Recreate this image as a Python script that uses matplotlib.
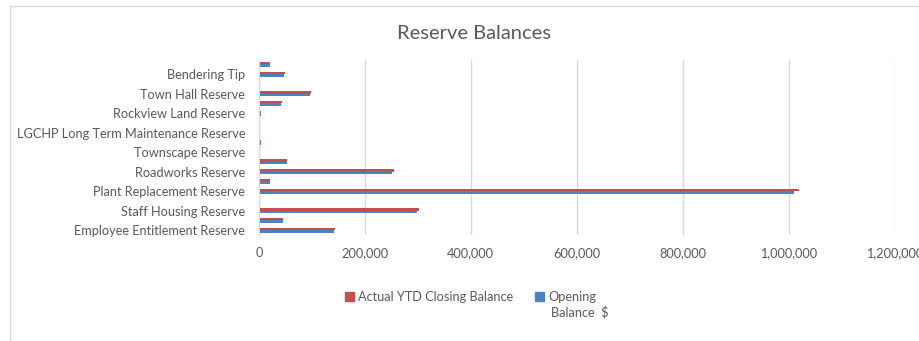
import numpy as np
import matplotlib
matplotlib.use("Agg")
import matplotlib.pyplot as plt
from matplotlib.patches import Patch

plt.rcParams['font.family'] = ['Lato', 'DejaVu Sans']

# reserves, bottom to top; Excel skips every other label
reserves = ["Employee Entitlement Reserve", "", "Staff Housing Reserve", "",
            "Plant Replacement Reserve", "", "Roadworks Reserve", "",
            "Townscape Reserve", "", "LGCHP Long Term Maintenance Reserve", "",
            "Rockview Land Reserve", "", "Town Hall Reserve", "",
            "Bendering Tip", ""]
closing = [143000, 46000, 302000, 0, 1020000, 21000, 255000, 53000,
           1000, 4000, 2000, 0, 4000, 43000, 99000, 0, 49000, 21000]
opening = [141000, 45000, 298000, 0, 1010000, 21000, 251000, 53000,
           1000, 4000, 2000, 0, 4000, 42000, 97000, 0, 48000, 20000]
x_ticks = [0, 200000, 400000, 600000, 800000, 1000000, 1200000]

red = "#C0504D"
blue = "#4F81BD"
grey_txt = "#595959"
grid_col = "#D9D9D9"
fs = 9.2

fig = plt.figure(figsize=(9.2, 3.41), dpi=100)
ax = fig.add_axes([0.2815, 0.311, 0.691, 0.5145])

y = np.arange(len(reserves))
h = 0.25
ax.barh(y + h / 2, closing, height=h, color=red, linewidth=0)
ax.barh(y - h / 2, opening, height=h, color=blue, linewidth=0)

ax.set_xlim(0, 1200000)
ax.set_ylim(-0.5, len(reserves) - 0.5)
ax.set_xticks(x_ticks)
ax.set_xticklabels([f"{v:,.0f}" for v in x_ticks])
ax.set_yticks(y)
ax.set_yticklabels(reserves)
ax.tick_params(axis='both', length=0, labelsize=fs, colors=grey_txt)
ax.tick_params(axis='x', pad=9)
ax.tick_params(axis='y', pad=10)

ax.grid(axis='x', color=grid_col, linewidth=1)
ax.set_axisbelow(True)
for side in ["top", "right", "bottom"]:
    ax.spines[side].set_visible(False)
ax.spines["left"].set_color(grid_col)

fig.text(0.515, 0.903, "Reserve Balances", ha='center', va='center',
         fontsize=14.5, color=grey_txt)

# chart area border (only left and top edges visible)
fig.add_artist(plt.Line2D([10 / 920, 10 / 920], [0, 1 - 6 / 341],
                          transform=fig.transFigure, color=grid_col, lw=1))
fig.add_artist(plt.Line2D([10 / 920, 1], [1 - 6 / 341, 1 - 6 / 341],
                          transform=fig.transFigure, color=grid_col, lw=1))

handles = [Patch(color=red), Patch(color=blue)]
leg = fig.legend(handles, ["Actual YTD Closing Balance", "Opening"],
                 loc='center left', bbox_to_anchor=(0.375, 1 - 297 / 341),
                 ncol=2, frameon=False, fontsize=fs, labelcolor=grey_txt,
                 handlelength=0.7, handleheight=0.7, handletextpad=0.3,
                 columnspacing=1.75, borderaxespad=0, borderpad=0)

# second line of the wrapped "Opening Balance $" entry
fig.canvas.draw()
bb = leg.get_texts()[1].get_window_extent().transformed(fig.transFigure.inverted())
fig.text(bb.x0 + 3 / 920, bb.y0 - 3 / 341, "Balance  $", ha='left', va='top',
         fontsize=fs, color=grey_txt)

fig.savefig("out.png", dpi=100, facecolor="white")
